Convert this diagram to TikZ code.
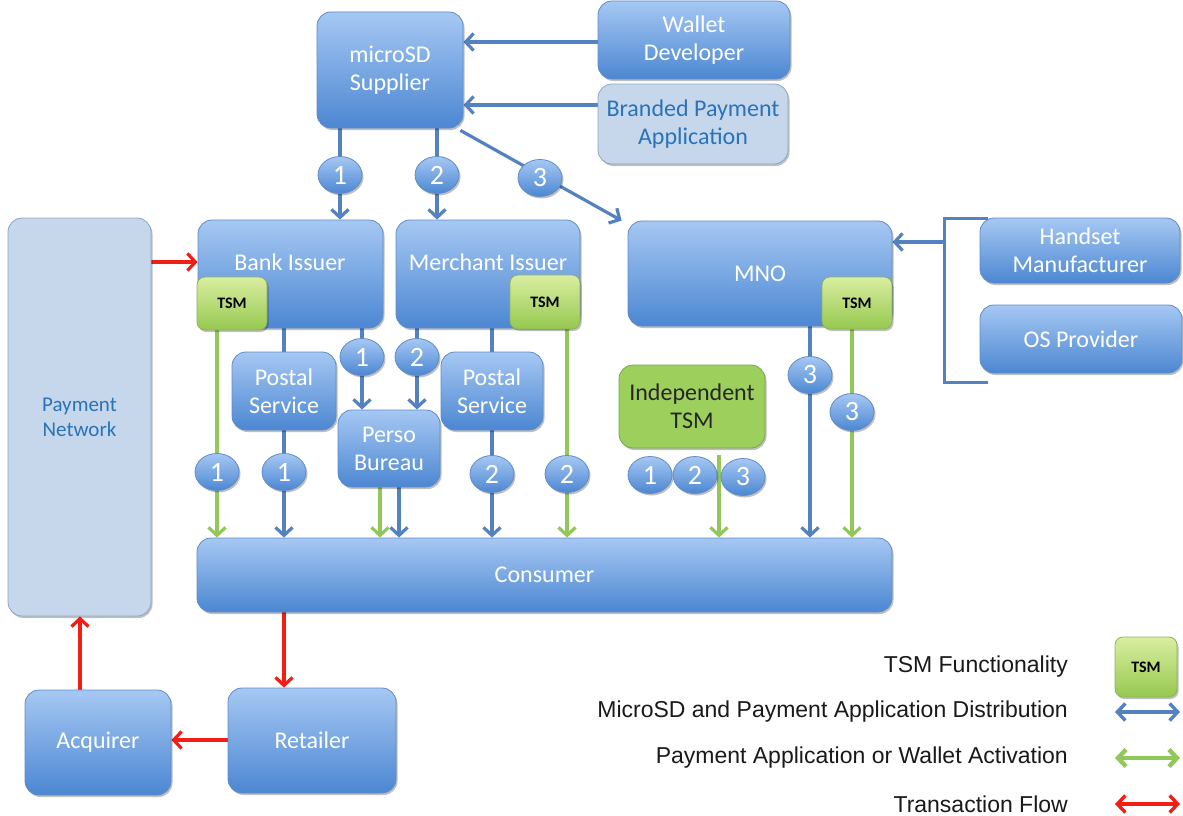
\documentclass[tikz,border=0pt]{standalone}
\usepackage{fontspec}
\setmainfont{Carlito}
\newfontfamily\legfont{Liberation Sans}
\usetikzlibrary{shapes.geometric,arrows.meta,shadows,calc}
\definecolor{boxtop}{RGB}{166,200,243}
\definecolor{boxbot}{RGB}{76,135,210}
\definecolor{boxdraw}{RGB}{95,140,200}
\definecolor{lightfill}{RGB}{198,215,235}
\definecolor{lightdraw}{RGB}{140,165,200}
\definecolor{lighttext}{RGB}{40,115,185}
\definecolor{tsmtop}{RGB}{218,238,160}
\definecolor{tsmbot}{RGB}{150,200,80}
\definecolor{tsmdraw}{RGB}{140,180,90}
\definecolor{itsmfill}{RGB}{157,207,92}
\definecolor{itsmdraw}{RGB}{120,165,80}
\definecolor{bluln}{RGB}{84,130,192}
\definecolor{grnln}{RGB}{146,200,90}
\definecolor{redln}{RGB}{240,30,20}
\pgfdeclarelayer{bg}
\pgfsetlayers{bg,main}
\begin{document}
\begin{tikzpicture}[x=1pt,y=-1pt,
  shadowed/.style={drop shadow={shadow xshift=1.5pt,shadow yshift=-2pt,opacity=0.25,fill=black}},
  bluebox/.style={rectangle, rounded corners=14pt, draw=boxdraw, line width=0.8pt,
    top color=boxtop, bottom color=boxbot, text=white,
    font=\fontsize{24}{28}\selectfont, align=center, inner sep=2pt, shadowed},
  lightbox/.style={rectangle, rounded corners=14pt, draw=lightdraw, line width=0.8pt,
    fill=lightfill, text=lighttext,
    font=\fontsize{24}{28}\selectfont, align=center, inner sep=2pt, shadowed},
  boxlabel/.style={text=white, font=\fontsize{24}{28}\selectfont, inner sep=0pt},
  tsmbox/.style={rectangle, rounded corners=8pt, draw=tsmdraw, line width=0.8pt,
    top color=tsmtop, bottom color=tsmbot, text=black,
    font=\bfseries\fontsize{16}{18}\selectfont, inner sep=0pt, shadowed},
  itsmbox/.style={rectangle, rounded corners=14pt, draw=itsmdraw, line width=0.8pt,
    fill=itsmfill, text=black!85,
    font=\fontsize{24}{28}\selectfont, align=center, inner sep=2pt, shadowed},
  num/.style={ellipse, draw=boxdraw, line width=0.8pt, top color=boxtop, bottom color=boxbot,
    text=white, minimum width=44pt, minimum height=37pt, inner sep=0pt,
    font=\fontsize{28}{28}\selectfont, shadowed},
  bline/.style={draw=bluln, line width=3.2pt},
  gline/.style={draw=grnln, line width=3.2pt},
  rline/.style={draw=redln, line width=3.2pt},
  tip/.style={-{Straight Barb[length=8pt,width=17pt]}},
  twotip/.style={{Straight Barb[length=8pt,width=17pt]}-{Straight Barb[length=8pt,width=17pt]}},
  legtext/.style={anchor=east, font=\legfont\fontsize{23}{26}\selectfont, text=black!90, inner sep=0pt}
]
\useasboundingbox (0,0) rectangle (1183,816);

% boxes
\node[bluebox, minimum width=146pt, minimum height=116pt] (sup) at (390,70) {microSD\\Supplier};
\node[bluebox, minimum width=192pt, minimum height=78pt] (wal) at (694,40) {Wallet\\Developer};
\node[lightbox, minimum width=190pt, minimum height=80pt] (brand) at (693,124) {Branded Payment\\Application};

\node[bluebox, minimum width=185pt, minimum height=108pt] (bank) at (290.5,274) {};
\node[boxlabel] (bankt) at (290,262) {Bank Issuer};
\node[tsmbox, minimum width=70pt, minimum height=53pt] (banktsm) at (232,303.5) {TSM};

\node[bluebox, minimum width=184pt, minimum height=108pt] (merch) at (488,274) {};
\node[boxlabel] (mercht) at (488,262) {Merchant Issuer};
\node[tsmbox, minimum width=70pt, minimum height=54pt] (merchtsm) at (545,302) {TSM};

\node[bluebox, minimum width=264pt, minimum height=105pt] (mno) at (760,273.5) {MNO};
\node[tsmbox, minimum width=70pt, minimum height=52pt] (mnotsm) at (857,303) {TSM};

\node[bluebox, minimum width=200pt, minimum height=65pt] (hand) at (1080,250.5) {Handset\\Manufacturer};
\node[bluebox, minimum width=202pt, minimum height=68pt] (os) at (1081,339) {OS Provider};

\node[bluebox, minimum width=104pt, minimum height=78pt] (postalL) at (284,391) {Postal\\Service};
\node[bluebox, minimum width=102pt, minimum height=78pt] (postalR) at (492,391) {Postal\\Service};
\node[bluebox, minimum width=102pt, minimum height=77pt] (perso) at (389,448.5) {Perso\\Bureau};

\node[itsmbox, minimum width=146pt, minimum height=83pt] (itsm) at (692,406.5) {Independent\\TSM};

\node[bluebox, minimum width=695pt, minimum height=74pt] (cons) at (544.5,575) {Consumer};

\node[lightbox, minimum width=143pt, minimum height=398pt, font=\fontsize{21}{25}\selectfont] (paynet) at (79.5,417) {Payment\\Network};

\node[bluebox, minimum width=146pt, minimum height=105pt] (acq) at (98,742.5) {Acquirer};
\node[bluebox, minimum width=168pt, minimum height=105pt] (ret) at (312,740.5) {Retailer};

% number ellipses
\node[num] (e1a) at (340,175) {1};
\node[num] (e2a) at (437,175) {2};
\node[num] (e3a) at (540,178) {3};
\node[num] (eb1) at (362,357) {1};
\node[num] (eb2) at (417,357) {2};
\node[num] (eL1) at (217,472) {1};
\node[num] (eL2) at (284,472) {1};
\node[num] (eR2) at (492,474) {2};
\node[num] (eR2g) at (567,474) {2};
\node[num] (m3) at (810,375) {3};
\node[num] (m3g) at (852,412) {3};
\node[num] (i1) at (650,475) {1};
\node[num] (i2) at (695,475) {2};
\node[num] (i3) at (743,477) {3};

\coordinate (itsmout) at (719,455);
\coordinate (brk) at (945,242);

% connectors
\begin{pgfonlayer}{bg}
\draw[bline,tip] (wal.west |- 0,42) -- (sup.east |- 0,42);
\draw[bline,tip] (brand.west |- 0,105) -- (sup.east |- 0,105);
\draw[bline,tip] (sup.south -| e1a) -- (e1a |- bank.north);
\draw[bline,tip] (sup.south -| e2a) -- (e2a |- merch.north);
\draw[bline,tip] ($(sup.south east)+(-3,2)$) -- ($(mno.north west)+(-6,0)$);
\draw[bline,tip] (bank.south -| eb1) -- (eb1 |- perso.north);
\draw[bline,tip] (merch.south -| eb2) -- (eb2 |- perso.north);
\draw[bline] (bank.south -| postalL) -- (postalL.north);
\draw[bline,tip] (postalL.south) -- (postalL.south |- cons.north);
\draw[bline] (merch.south -| postalR) -- (postalR.north);
\draw[bline,tip] (postalR.south) -- (postalR.south |- cons.north);
\draw[bline,tip] ([xshift=10pt]perso.south) -- ([xshift=10pt]perso.south |- cons.north);
\draw[gline,tip] ([xshift=-9pt]perso.south) -- ([xshift=-9pt]perso.south |- cons.north);
\draw[bline,tip] (mno.south -| m3) -- (m3 |- cons.north);
\draw[gline,tip] (banktsm.south -| eL1) -- (eL1 |- cons.north);
\draw[gline,tip] (merchtsm.south -| eR2g) -- (eR2g |- cons.north);
\draw[gline,tip] (mnotsm.south -| m3g) -- (m3g |- cons.north);
\draw[gline,tip] (itsmout) -- (itsmout |- cons.north);
% bracket
\draw[bline, line width=2.6pt] ($(hand.north west)+(8,1)$) -- ($(hand.north west)+(-35,1)$)
   -- ($(os.south west)+(-35,9)$) -- ($(os.south west)+(8,9)$);
\draw[bline,tip] (brk) -- (brk -| mno.east);
% transaction flow
\draw[rline,tip] (paynet.east |- bankt) -- (bank.west |- bankt);
\draw[rline,tip] ([xshift=-18pt]acq.north) -- ([xshift=-18pt]acq.north |- paynet.south);
\draw[rline,tip] (cons.south -| eL2) -- (eL2 |- ret.north);
\draw[rline,tip] (ret.west |- 0,740) -- (acq.east |- 0,740);
\end{pgfonlayer}

% legend
\node[legtext] (lg1) at (1068,667) {TSM Functionality};
\node[tsmbox, minimum width=62pt, minimum height=60pt] (lgtsm) at (1146,667) {TSM};
\node[legtext] (lg2) at (1068,712) {MicroSD and Payment Application Distribution};
\node[legtext] (lg3) at (1068,758) {Payment Application or Wallet Activation};
\node[legtext] (lg4) at (1068,804) {Transaction Flow};
\coordinate (la2) at (1115,712); \coordinate (lb2) at (1180,712);
\coordinate (la3) at (1115,758); \coordinate (lb3) at (1180,758);
\coordinate (la4) at (1115,804); \coordinate (lb4) at (1180,804);
\draw[bline,twotip,line width=3.4pt] (la2) -- (lb2);
\draw[gline,twotip,line width=4.4pt] (la3) -- (lb3);
\draw[rline,twotip,line width=3.4pt] (la4) -- (lb4);
\end{tikzpicture}
\end{document}
